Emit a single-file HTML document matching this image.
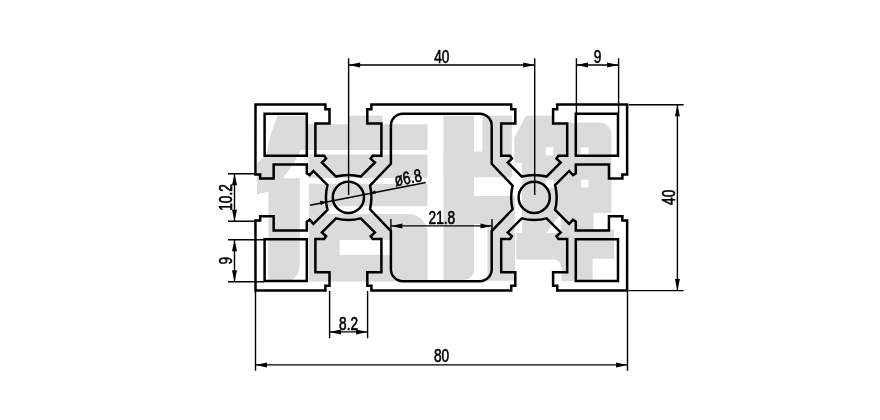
<!DOCTYPE html>
<html lang="zh"><head><meta charset="utf-8"><title>4080 profile drawing</title>
<style>
html,body{margin:0;padding:0;background:#fff}
body{width:880px;height:420px;overflow:hidden}
svg{display:block;filter:grayscale(1)}
.o{fill:none;stroke:#000;stroke-width:2.5;stroke-linejoin:miter;stroke-linecap:square}
.t{fill:none;stroke:#000;stroke-width:1.4}
.a{fill:#000;stroke:none}
.x text{font-family:"Liberation Sans",sans-serif;font-size:18px;fill:#000;stroke:#000;stroke-width:.6px}
.w{fill:#dbdbdb}
</style></head><body>
<svg width="880" height="420" viewBox="0 0 880 420">
<rect width="880" height="420" fill="#fff"/>
<g class="w" role="img" aria-label="信牌 watermark logo"><path d="M277.6 115.7H307L306.6 124L305.6 131.8L303 142L298.5 154.4L294.9 161.4L291.2 166.9L283.6 177.3V178.3H299.8V264A12 17 0 0 1 287.8 281H268.4V191.6L257 194.5V163L262 159L266.3 154.4L271 133.5Z"/>
<rect x="349" y="115.6" width="33.5" height="9"/>
<rect x="300" y="124.2" width="127.5" height="25.8"/>
<rect x="308.4" y="154.5" width="119.1" height="23.6"/>
<path fill-rule="evenodd" d="M308.8 183.8H427.5V206.2H327V214H408.5A19 19 0 0 1 427.5 233V281.5H308.8ZM339.6 240H390.5V255H339.6Z"/>
<path d="M443.5 115.8H474.1V270A10 10 0 0 1 464.1 280H443.5Z"/>
<rect x="482.5" y="115.8" width="29.4" height="37"/>
<rect x="443.5" y="151.6" width="68.4" height="25.8"/>
<rect x="474.1" y="196" width="40.9" height="28"/>
<rect x="487.4" y="224" width="27.6" height="56.7"/>
<path fill-rule="evenodd" d="M525.8 115.8H553.5V122.6H599.4A12 12 0 0 1 611.4 134.6V213H593.5V229.6H614V258.8H592.6V281H561.5V267.5A8 8 0 0 0 553.5 259.5H516.4V232.9H522.1V163H514.3V138ZM560.7 214V232.9H546ZM545.7 147.2H553.4V155.6H545.7ZM580.7 147.2H588.5V155.6H580.7ZM545.8 179.8H553.3V187.6H545.8ZM581.2 179.8H588.4V187.6H581.2Z"/>
</g>
<g class="o">
<path d="M255.5 104.5 L325.4 104.5 L325.4 109.25 L329.5 109.25 L329.5 123.5 L315.4 123.5 L315.4 155.85 L324.2 155.85 L326.1 158.65 L321.9 162.45 L336 176.55 A50 50 0 0 1 360.8 176.55 L374.9 162.45 L370.7 158.65 L372.6 155.85 L381.4 155.85 L381.4 123.5 L367.3 123.5 L367.3 109.25 L371.4 109.25 L371.4 104.5 L511.2 104.5 L511.2 109.25 L515.3 109.25 L515.3 123.5 L501.2 123.5 L501.2 155.85 L510 155.85 L511.9 158.65 L507.7 162.45 L521.8 176.55 A50 50 0 0 1 546.6 176.55 L560.7 162.45 L556.5 158.65 L558.4 155.85 L567.2 155.85 L567.2 123.5 L553.1 123.5 L553.1 109.25 L557.2 109.25 L557.2 104.5 L627.1 104.5 L627.15 174.45 L622.4 174.45 L622.4 178.55 L608.95 178.55 L608.95 164.45 L575.8 164.45 L575.8 173.25 L573 175.15 L569.2 170.95 L555.1 185.05 A50 50 0 0 1 555.1 209.85 L569.2 223.95 L573 219.75 L575.8 221.65 L575.8 230.45 L608.95 230.45 L608.95 216.35 L622.4 216.35 L622.4 220.45 L627.15 220.45 L627.1 290.4 L557.2 290.4 L557.2 285.65 L553.1 285.65 L553.1 272.2 L567.2 272.2 L567.2 239.05 L558.4 239.05 L556.5 236.25 L560.7 232.45 L546.6 218.35 A50 50 0 0 1 521.8 218.35 L507.7 232.45 L511.9 236.25 L510 239.05 L501.2 239.05 L501.2 272.2 L515.3 272.2 L515.3 285.65 L511.2 285.65 L511.2 290.4 L371.4 290.4 L371.4 285.65 L367.3 285.65 L367.3 272.2 L381.4 272.2 L381.4 239.05 L372.6 239.05 L370.7 236.25 L374.9 232.45 L360.8 218.35 A50 50 0 0 1 336 218.35 L321.9 232.45 L326.1 236.25 L324.2 239.05 L315.4 239.05 L315.4 272.2 L329.5 272.2 L329.5 285.65 L325.4 285.65 L325.4 290.4 L255.5 290.4 L255.45 220.45 L260.2 220.45 L260.2 216.35 L273.65 216.35 L273.65 230.45 L306.8 230.45 L306.8 221.65 L309.6 219.75 L313.4 223.95 L327.5 209.85 A50 50 0 0 1 327.5 185.05 L313.4 170.95 L309.6 175.15 L306.8 173.25 L306.8 164.45 L273.65 164.45 L273.65 178.55 L260.2 178.55 L260.2 174.45 L255.45 174.45 Z"/>
<path d="M306.8 155.75 H264.6 V113.85 H306.8 Z M306.8 239.15 H264.6 V281.05 H306.8 Z M575.8 155.75 H618 V113.85 H575.8 Z M575.8 239.15 H618 V281.05 H575.8 Z"/>
<path d="M402.9 113.7 H479.7 A12 12 0 0 1 491.7 125.7 V163.85 L512.6 185.65 A50 50 0 0 0 512.6 209.25 L491.7 231.05 V269.2 A12 12 0 0 1 479.7 281.2 H402.9 A12 12 0 0 1 390.9 269.2 V231.05 L370 209.25 A50 50 0 0 0 370 185.65 L390.9 163.85 V125.7 A12 12 0 0 1 402.9 113.7 Z"/>
<circle cx="348.4" cy="197.45" r="15.6"/>
<circle cx="534.2" cy="197.45" r="15.6"/>
</g>
<path class="t" d="M348.6 58.3 L348.6 195 M534.7 58.3 L534.7 195 M348.6 65 L534.7 65 M576.4 58.3 L576.4 113 M618.6 58.3 L618.6 113 M576.4 65 L618.6 65 M628.6 104.7 L683.6 104.7 M628.6 290.6 L683.6 290.6 M677.4 104.7 L677.4 290.6 M255.5 291 L255.5 370.7 M627.5 291 L627.5 370.7 M255.5 364.9 L627.5 364.9 M329.6 291 L329.6 338.2 M367.6 291 L367.6 338.2 M329.6 331.9 L367.6 331.9 M228 173.7 L255 173.7 M228 221.3 L255 221.3 M234.5 173.7 L234.5 221.3 M228 239.7 L264 239.7 M228 281.7 L264 281.7 M234.5 239.7 L234.5 281.7 M390.9 219.1 L390.9 232 M492 219.1 L492 232 M390.9 225.9 L492 225.9 M310 205.3 L425.8 182.5"/>
<g class="a"><polygon points="348.6,65 360.1,62.5 360.1,67.5"/><polygon points="534.7,65 523.2,67.5 523.2,62.5"/><polygon points="576.4,65 587.9,62.5 587.9,67.5"/><polygon points="618.6,65 607.1,67.5 607.1,62.5"/><polygon points="677.4,104.7 679.9,116.2 674.9,116.2"/><polygon points="677.4,290.6 674.9,279.1 679.9,279.1"/><polygon points="255.5,364.9 267,362.4 267,367.4"/><polygon points="627.5,364.9 616,367.4 616,362.4"/><polygon points="329.6,331.9 341.1,329.4 341.1,334.4"/><polygon points="367.6,331.9 356.1,334.4 356.1,329.4"/><polygon points="234.5,173.7 237,185.2 232,185.2"/><polygon points="234.5,221.3 232,209.8 237,209.8"/><polygon points="234.5,239.7 237,251.2 232,251.2"/><polygon points="234.5,281.7 232,270.2 237,270.2"/><polygon points="390.9,225.9 402.4,223.4 402.4,228.4"/><polygon points="492,225.9 480.5,228.4 480.5,223.4"/><polygon points="326.23,201.82 320.78,205.23 319.89,200.72"/><polygon points="370.57,193.08 375.11,190.25 375.85,193.98"/></g>
<g class="x"><text transform="translate(441.8 62.9) rotate(0) scale(0.76 1)" text-anchor="middle">40</text><text transform="translate(597.6 62.9) rotate(0) scale(0.76 1)" text-anchor="middle">9</text><text transform="translate(441.5 362.4) rotate(0) scale(0.76 1)" text-anchor="middle">80</text><text transform="translate(348.6 329.7) rotate(0) scale(0.76 1)" text-anchor="middle">8.2</text><text transform="translate(441.9 223.5) rotate(0) scale(0.76 1)" text-anchor="middle">21.8</text><text transform="translate(675 197.3) rotate(-90) scale(0.76 1)" text-anchor="middle">40</text><text transform="translate(232 197.5) rotate(-90) scale(0.76 1)" text-anchor="middle">10.2</text><text transform="translate(232 260.6) rotate(-90) scale(0.76 1)" text-anchor="middle">9</text><text transform="translate(409.2 183.6) rotate(-11.14) scale(0.76 1)" text-anchor="middle">ø6.8</text></g>
</svg>
</body></html>
